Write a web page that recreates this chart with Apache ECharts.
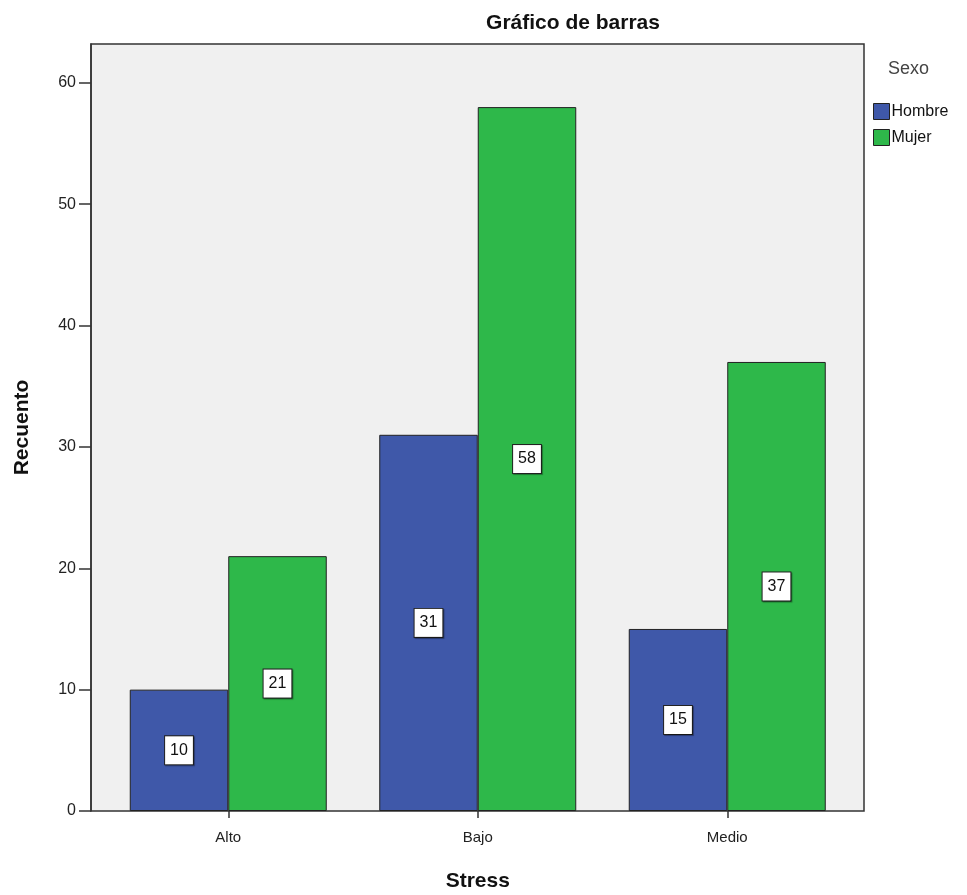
<!DOCTYPE html>
<html><head><meta charset="utf-8">
<script src="https://cdn.jsdelivr.net/npm/echarts@6/dist/echarts.min.js"></script>
<style>html,body{margin:0;padding:0;background:#fff}#c{width:967px;height:895px}</style>
</head><body><div id="c"></div>
<script>
const categories = ['Alto', 'Bajo', 'Medio'];
const hombre = [10, 31, 15];
const mujer = [21, 58, 37];
const yTicks = [0, 10, 20, 30, 40, 50, 60];
const legendNames = ['Hombre', 'Mujer'];

const chart = echarts.init(document.getElementById('c'), null, {renderer: 'canvas'});
const labelStyle = {
  show: true, position: 'inside', color: '#111', fontSize: 16, fontFamily: 'Arial, Liberation Sans',
  backgroundColor: '#fff', borderColor: '#222', borderWidth: 1, padding: [7, 5, 5, 5],
  shadowColor: 'rgba(0,0,0,0.35)', shadowBlur: 1, shadowOffsetX: 1, shadowOffsetY: 1
};
chart.setOption({
  animation: false,
  title: {
    text: 'Gráfico de barras', left: 568, top: 8, textAlign: 'center',
    textStyle: {fontSize: 21, fontWeight: 'bold', color: '#111', fontFamily: 'Arial, Liberation Sans'}
  },
  legend: {
    data: legendNames, orient: 'vertical', left: 868, top: 98, itemWidth: 16, itemHeight: 16, itemGap: 9,
    icon: 'rect',
    textStyle: {fontSize: 16, color: '#111', fontFamily: 'Arial, Liberation Sans', padding: [0, 0, 0, -3]},
    itemStyle: {borderColor: '#222', borderWidth: 1}
  },
  graphic: [{
    type: 'text', left: 888, top: 60,
    style: {text: 'Sexo', fontSize: 18, fill: '#444', fontFamily: 'Arial, Liberation Sans'}
  }],
  grid: [
    {left: 91, right: 103, top: 44, bottom: 84, show: true, backgroundColor: '#f0f0f0', borderColor: '#333', borderWidth: 1.5, outerBoundsMode: 'none', containLabel: false},
    {left: 103.5, right: 115, top: 44, bottom: 84, outerBoundsMode: 'none', containLabel: false}
  ],
  xAxis: [
    {gridIndex: 0, type: 'value', show: false, min: 0, max: 1},
    {gridIndex: 1, type: 'category', data: categories,
     axisLine: {show: false},
     axisTick: {show: true, alignWithLabel: true, length: 7, lineStyle: {color: '#333', width: 1.5}},
     axisLabel: {fontSize: 15, color: '#222', margin: 19, fontFamily: 'Arial, Liberation Sans'},
     name: 'Stress', nameLocation: 'middle', nameGap: 60,
     nameTextStyle: {fontSize: 21, fontWeight: 'bold', color: '#111', fontFamily: 'Arial, Liberation Sans'}}
  ],
  yAxis: [
    {gridIndex: 0, type: 'value', min: 0, max: 63.2,
     axisLine: {show: true, lineStyle: {color: '#333', width: 1.5}},
     axisTick: {show: true, length: 12, customValues: yTicks, lineStyle: {color: '#333', width: 1.5}},
     axisLabel: {customValues: yTicks, fontSize: 16, color: '#222', margin: 15, fontFamily: 'Arial, Liberation Sans'},
     splitLine: {show: false},
     name: 'Recuento', nameLocation: 'middle', nameGap: 58, nameRotate: 90,
     nameTextStyle: {fontSize: 21, fontWeight: 'bold', color: '#111', fontFamily: 'Arial, Liberation Sans'}},
    {gridIndex: 1, type: 'value', show: false, min: 0, max: 63.2}
  ],
  series: [
    {name: 'Hombre', type: 'bar', xAxisIndex: 1, yAxisIndex: 1, data: hombre, barWidth: 98.5, barGap: '0%',
     itemStyle: {color: '#3f58a9', borderColor: '#222', borderWidth: 1}, label: labelStyle},
    {name: 'Mujer', type: 'bar', xAxisIndex: 1, yAxisIndex: 1, data: mujer, barWidth: 98.5, barGap: '0%',
     itemStyle: {color: '#2eb84a', borderColor: '#222', borderWidth: 1}, label: labelStyle}
  ]
});
</script></body></html>
